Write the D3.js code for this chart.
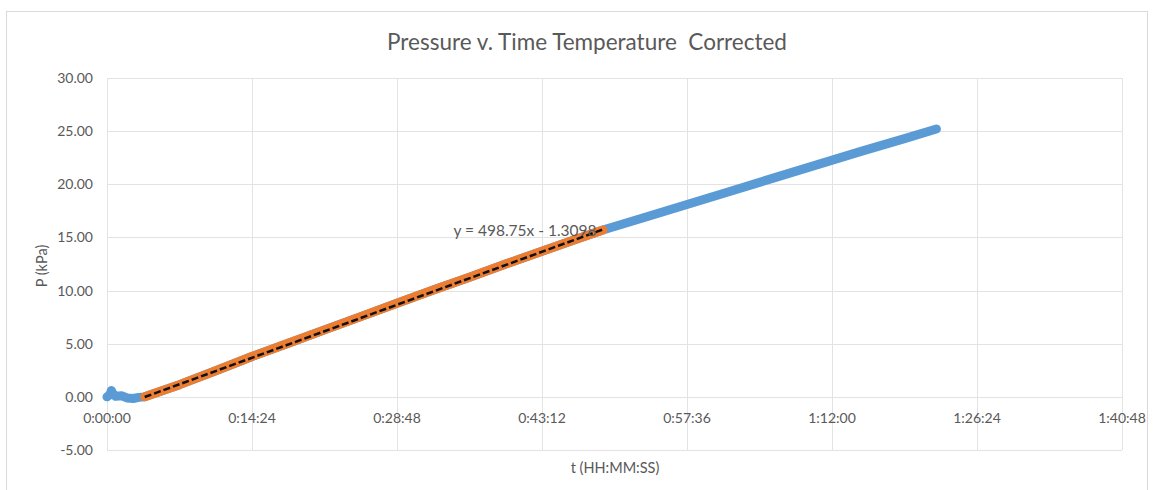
<!DOCTYPE html>
<html>
<head>
<meta charset="utf-8">
<script src="https://cdn.jsdelivr.net/npm/d3@7"></script>
<style>
  html, body { margin: 0; padding: 0; background: #fff; }
  svg { display: block; }
  text { font-family: Lato, "Open Sans", sans-serif; fill: #595959; }
</style>
</head>
<body>
<svg id="chart" width="1155" height="490"></svg>
<script>
// Elapsed time stored as a fraction of a day (spreadsheet time), pressure in kPa.
const allTime = [0, 0.0002, 0.0003, 0.0004, 0.0006, 0.0010, 0.0014, 0.0018, 0.0022, 0.0026,
  0.005, 0.0075, 0.010, 0.0125, 0.015, 0.0175, 0.020, 0.0225, 0.025, 0.0275, 0.030, 0.0325, 0.0342,
  0.037, 0.040, 0.043, 0.046, 0.049, 0.052, 0.055, 0.0572];
const allPressure = [0.0, 0.2, 0.6, 0.3, 0.05, 0.1, -0.1, -0.15, -0.05, 0.0,
  1.15, 2.45, 3.8, 5.05, 6.3, 7.55, 8.8, 10.05, 11.25, 12.5, 13.7, 14.9, 15.7,
  16.85, 18.1, 19.35, 20.6, 21.85, 23.1, 24.3, 25.2];

// Linear fitting window
const fitTime = [0.0026, 0.005, 0.0075, 0.010, 0.0125, 0.015, 0.0175, 0.020, 0.0225, 0.025,
  0.0275, 0.030, 0.0325, 0.0342];
const fitPressure = [0.0, 1.15, 2.45, 3.8, 5.05, 6.3, 7.55, 8.8, 10.05, 11.25, 12.5, 13.7, 14.9, 15.7];

// Trendline y = slope * x + intercept
const fitSlope = 498.75;
const fitIntercept = -1.3098;

const xTicks = [0, 0.01, 0.02, 0.03, 0.04, 0.05, 0.06, 0.07];
const xTickLabels = ["0:00:00", "0:14:24", "0:28:48", "0:43:12", "0:57:36", "1:12:00", "1:26:24", "1:40:48"];
const yTicks = [-5, 0, 5, 10, 15, 20, 25, 30];

const titleText = "Pressure v. Time Temperature  Corrected";
const xTitle = "t (HH:MM:SS)";
const yTitle = "P (kPa)";

const svg = d3.select("#chart");

// outer chart frame
svg.append("rect")
  .attr("x", 6.5).attr("y", 11.5).attr("width", 1141).attr("height", 490)
  .attr("fill", "#fff").attr("stroke", "#d9d9d9").attr("stroke-width", 1);

const plot = { left: 107, right: 1122, top: 78, bottom: 450 };

const x = d3.scaleLinear().domain([0, 0.07]).range([plot.left, plot.right]);
const y = d3.scaleLinear().domain([-5, 30]).range([plot.bottom, plot.top]);

// gridlines
const grid = svg.append("g");
grid.selectAll("line.v").data(xTicks).join("line")
  .attr("x1", d => Math.round(x(d)) + 0.5).attr("x2", d => Math.round(x(d)) + 0.5)
  .attr("y1", plot.top).attr("y2", plot.bottom)
  .attr("stroke", "#e3e3e3").attr("stroke-width", 1);
grid.selectAll("line.h").data(yTicks).join("line")
  .attr("x1", plot.left).attr("x2", plot.right)
  .attr("y1", d => Math.round(y(d)) + 0.5).attr("y2", d => Math.round(y(d)) + 0.5)
  .attr("stroke", "#e3e3e3").attr("stroke-width", 1);

// y tick labels, plain hyphen for negatives
const fmtY = d3.formatLocale({ decimal: ".", thousands: ",", grouping: [3], currency: ["", ""], minus: "-" }).format(".2f");
svg.append("g").selectAll("text").data(yTicks).join("text")
  .attr("x", 93).attr("y", d => y(d) + 5)
  .attr("text-anchor", "end").attr("font-size", 14)
  .text(d => fmtY(d));

// x tick labels sit just under the zero line
svg.append("g").selectAll("text").data(xTicks).join("text")
  .attr("x", d => x(d)).attr("y", y(0) + 26)
  .attr("text-anchor", "middle").attr("font-size", 14)
  .text((d, i) => xTickLabels[i]);

// full series
const line = d3.line().x(d => x(d[0])).y(d => y(d[1]));
const allData = allTime.map((t, i) => [t, allPressure[i]]);
const fitData = fitTime.map((t, i) => [t, fitPressure[i]]);

svg.append("path").datum(allData)
  .attr("d", line)
  .attr("fill", "none").attr("stroke", "#5b9bd5").attr("stroke-width", 9)
  .attr("stroke-linecap", "round").attr("stroke-linejoin", "round");

// fitted subset
svg.append("path").datum(fitData)
  .attr("d", line)
  .attr("fill", "none").attr("stroke", "#ed7d31").attr("stroke-width", 9)
  .attr("stroke-linecap", "round").attr("stroke-linejoin", "round");

// linear trendline over the fitted range
const tStart = d3.min(fitTime), tEnd = d3.max(fitTime);
const trend = [[tStart, fitSlope * tStart + fitIntercept], [tEnd, fitSlope * tEnd + fitIntercept]];
svg.append("path").datum(trend)
  .attr("d", line)
  .attr("fill", "none").attr("stroke", "#111").attr("stroke-width", 2.5)
  .attr("stroke-dasharray", "7,3");

// trendline equation
svg.append("text")
  .attr("x", 525).attr("y", 236)
  .attr("text-anchor", "middle").attr("font-size", 15.5)
  .text(`y = ${fitSlope}x - ${Math.abs(fitIntercept)}`);

// title
svg.append("text")
  .attr("x", 587).attr("y", 50)
  .attr("text-anchor", "middle").attr("font-size", 22.5)
  .style("white-space", "pre")
  .text(titleText);

// axis titles
svg.append("text")
  .attr("x", 615).attr("y", 473)
  .attr("text-anchor", "middle").attr("font-size", 14.5)
  .text(xTitle);

svg.append("text")
  .attr("transform", "translate(47,266) rotate(-90)")
  .attr("text-anchor", "middle").attr("font-size", 14.5)
  .text(yTitle);
</script>
</body>
</html>
